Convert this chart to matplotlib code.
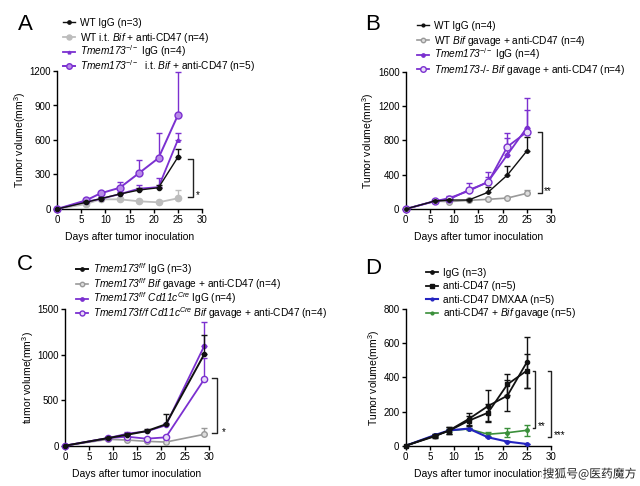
import matplotlib
matplotlib.use('Agg')
import matplotlib.pyplot as plt
import numpy as np
import matplotlib.patheffects as pe
from matplotlib.lines import Line2D

plt.rcParams['font.family'] = ['Liberation Sans', 'DejaVu Sans']
plt.rcParams['mathtext.fontset'] = 'custom'
plt.rcParams['mathtext.rm'] = 'Liberation Sans'
plt.rcParams['mathtext.it'] = 'Liberation Sans:italic'
plt.rcParams['mathtext.cal'] = 'Liberation Sans:italic'
plt.rcParams['mathtext.bf'] = 'Liberation Sans:bold'

# ---------------- data ----------------
xA = [0, 6, 9, 13, 17, 21, 25]
A_wt_igg = [0, 58, 90, 130, 165, 185, 450]
A_wt_igg_err = [0, 8, 10, 12, 15, 20, 70]
A_wt_bif = [0, 43, 84, 84, 67, 58, 93]
A_wt_bif_err = [0, 8, 10, 12, 10, 15, 75]
A_ko_igg = [0, 64, 87, 130, 177, 190, 600]
A_ko_igg_err = [0, 10, 10, 15, 32, 77, 58]
A_ko_bif = [0, 75, 136, 185, 313, 443, 815]
A_ko_bif_err = [0, 10, 15, 50, 116, 221, 379]

xB = [0, 6, 9, 13, 17, 21, 25]
B_wt_igg = [0, 93, 105, 105, 195, 397, 677]
B_wt_igg_err = [0, 10, 10, 10, 65, 105, 168]
B_wt_bif = [0, 93, 86, 101, 113, 128, 183]
B_wt_bif_err = [0, 8, 8, 8, 10, 12, 39]
B_ko_igg = [0, 90, 128, 210, 319, 634, 949]
B_ko_igg_err = [0, 15, 20, 40, 60, 200, 351]
B_ko_bif = [0, 93, 113, 222, 311, 728, 899]
B_ko_bif_err = [0, 15, 30, 78, 125, 160, 257]

xC = [0, 9, 13, 17, 21, 29]
C_ff_igg = [0, 84, 121, 161, 235, 1005]
C_ff_igg_err = [0, 10, 15, 20, 110, 216]
C_ff_bif = [0, 70, 62, 48, 40, 125]
C_ff_bif_err = [0, 8, 8, 8, 8, 73]
C_cre_igg = [0, 84, 132, 158, 224, 1096]
C_cre_igg_err = [0, 10, 15, 20, 25, 268]
C_cre_bif = [0, 84, 99, 77, 92, 730]
C_cre_bif_err = [0, 10, 15, 10, 15, 231]

xD = [0, 6, 9, 13, 17, 21, 25]
D_igg = [0, 55, 90, 156, 232, 293, 488]
D_igg_err = [0, 8, 20, 35, 94, 90, 150]
D_cd47 = [0, 58, 88, 146, 193, 359, 439]
D_cd47_err = [0, 8, 20, 30, 50, 61, 100]
D_dmxaa = [0, 62, 90, 100, 49, 24, 10]
D_dmxaa_err = [0, 4, 5, 5, 4, 3, 2]
D_bif = [0, 60, 88, 98, 67, 76, 90]
D_bif_err = [0, 5, 8, 8, 12, 26, 31]

labels_A = ["WT IgG (n=3)",
            r"WT i.t. $\mathcal{Bif}$ + anti-CD47 (n=4)",
            r"$\mathcal{Tmem173}^{-/-}$ IgG (n=4)",
            r"$\mathcal{Tmem173}^{-/-}$  i.t. $\mathcal{Bif}$ + anti-CD47 (n=5)"]
labels_B = ["WT IgG (n=4)",
            r"WT $\mathcal{Bif}$ gavage + anti-CD47 (n=4)",
            r"$\mathcal{Tmem173}^{-/-}$ IgG (n=4)",
            r"$\mathcal{Tmem173\text{-/-}}$ $\mathcal{Bif}$ gavage + anti-CD47 (n=4)"]
labels_C = [r"$\mathcal{Tmem173}^{f/f}$ IgG (n=3)",
            r"$\mathcal{Tmem173}^{f/f}$ $\mathcal{Bif}$ gavage + anti-CD47 (n=4)",
            r"$\mathcal{Tmem173}^{f/f}$ $\mathcal{Cd11c}^{Cre}$ IgG (n=4)",
            r"$\mathcal{Tmem173f/f}$ $\mathcal{Cd11c}^{Cre}$ $\mathcal{Bif}$ gavage + anti-CD47 (n=4)"]
labels_D = ["IgG (n=3)", "anti-CD47 (n=5)", "anti-CD47 DMXAA (n=5)",
            r"anti-CD47 + $\mathcal{Bif}$ gavage (n=5)"]

PURPLE = '#7b30d0'
BLACK = '#111111'
FS = 7.5
LFS = 7.3
TFS = 7
W, H = 640, 486

fig = plt.figure(figsize=(6.4, 4.86), dpi=100)

def make_ax(rect, ymax, yticks, ylabel):
    ax = fig.add_axes(rect)
    ax.set_xlim(0, 30)
    ax.set_ylim(0, ymax)
    ax.set_xticks([0, 5, 10, 15, 20, 25, 30])
    ax.set_yticks(yticks)
    for s in ['top', 'right']:
        ax.spines[s].set_visible(False)
    for s in ['left', 'bottom']:
        ax.spines[s].set_linewidth(1.0)
    ax.tick_params(direction='out', length=3, width=1, labelsize=TFS, pad=1.5)
    ax.set_xlabel('Days after tumor inoculation', fontsize=FS, labelpad=5)
    ax.set_ylabel(ylabel, fontsize=FS, labelpad=1)
    return ax

def series(ax, x, y, err, color, marker, ms, mfc=None, lw=1.2, both=False, z=3):
    y = np.array(y, float)
    e = np.array(err, float)
    yerr = [e, e] if both else [np.zeros_like(e), e]
    h = ax.errorbar(x, y, yerr=yerr, color=color, marker=marker, ms=ms,
                    mfc=mfc if mfc else color, mec=color, mew=1.0, lw=lw,
                    elinewidth=1.0, capsize=2.2, capthick=1.0, zorder=z)
    h[0].set_clip_on(False)
    return h[0]

def bracket(ax, x, x0, top, bot, txt, tx, ty):
    ax.plot([x0, x, x, x0], [top, top, bot, bot], color='#222222', lw=1.0, clip_on=False)
    ax.text(tx, ty, txt, fontsize=7, ha='left', va='center', clip_on=False)

def legend(handles, labels, xpx, y0, dy=14.6):
    for i, (h, lab) in enumerate(zip(handles, labels)):
        y = y0 + i * dy
        yf = 1 - y / H
        ln = Line2D([xpx / W, (xpx + 6) / W, (xpx + 12) / W], [yf, yf, yf],
                    transform=fig.transFigure, color=h.get_color(), lw=h.get_linewidth(),
                    marker=h.get_marker(), ms=h.get_markersize() * 0.8,
                    mfc=h.get_markerfacecolor(), mec=h.get_markeredgecolor(),
                    markevery=[1])
        fig.add_artist(ln)
        fig.text((xpx + 17) / W, 1 - (y + 3.5) / H, lab, fontsize=LFS,
                 ha='left', va='baseline')

# ---------------- Panel A ----------------
axA = make_ax([57 / W, 1 - 209 / H, 145 / W, 138 / H], 1200,
              [0, 300, 600, 900, 1200], r'Tumor volume(mm$^3$)')
hA1 = series(axA, xA, A_wt_igg, A_wt_igg_err, BLACK, 'o', 3, lw=1.0, z=5)
hA2 = series(axA, xA, A_wt_bif, A_wt_bif_err, '#bdbdbd', 'o', 4.5, lw=1.3, z=3)
hA3 = series(axA, xA, A_ko_igg, A_ko_igg_err, PURPLE, '^', 2.5, lw=1.3, z=4)
hA4 = series(axA, xA, A_ko_bif, A_ko_bif_err, PURPLE, 'o', 5, mfc='#b88ae8', lw=1.4, z=4)
bracket(axA, 28.2, 27.2, 432, 107, '*', 28.7, 125)
legend([hA1, hA2, hA3, hA4], labels_A, 63, 22.5)
fig.text(18 / W, 1 - 24 / H, 'A', fontsize=16, ha='left', va='center')

# ---------------- Panel B ----------------
axB = make_ax([405.7 / W, 1 - 209 / H, 145.3 / W, 137 / H], 1600,
              [0, 400, 800, 1200, 1600], r'Tumor volume(mm$^3$)')
hB1 = series(axB, xB, B_wt_igg, B_wt_igg_err, BLACK, 'o', 2.5, lw=1.0, z=5)
hB2 = series(axB, xB, B_wt_bif, B_wt_bif_err, '#999999', 'o', 4, mfc='#dddddd', lw=1.2, z=3)
hB3 = series(axB, xB, B_ko_igg, B_ko_igg_err, PURPLE, 'o', 3, lw=1.3, z=4)
hB4 = series(axB, xB, B_ko_bif, B_ko_bif_err, PURPLE, 'o', 5, mfc='#e8dcf7', lw=1.3, z=4)
bracket(axB, 28.1, 27.3, 903, 190, '**', 28.6, 205)
legend([hB1, hB2, hB3, hB4], labels_B, 417, 25.5)
fig.text(365 / W, 1 - 25 / H, 'B', fontsize=16, ha='left', va='center')

# ---------------- Panel C ----------------
axC = make_ax([65 / W, 1 - 445.7 / H, 144 / W, 136.4 / H], 1500,
              [0, 500, 1000, 1500], r'tumor volume(mm$^3$)')
hC1 = series(axC, xC, C_ff_igg, C_ff_igg_err, BLACK, 'o', 3, lw=1.4, z=5)
hC2 = series(axC, xC, C_ff_bif, C_ff_bif_err, '#999999', 'o', 4, mfc='#dddddd', lw=1.2, z=3)
hC3 = series(axC, xC, C_cre_igg, C_cre_igg_err, PURPLE, 'o', 3, lw=1.3, z=4)
hC4 = series(axC, xC, C_cre_bif, C_cre_bif_err, PURPLE, 'o', 4.5, mfc='#e8dcf7', lw=1.3, z=4)
bracket(axC, 31.6, 30.6, 748, 136, '*', 32.6, 150)
legend([hC1, hC2, hC3, hC4], labels_C, 76, 269.5)
fig.text(17 / W, 1 - 265 / H, 'C', fontsize=16, ha='left', va='center')

# ---------------- Panel D ----------------
axD = make_ax([405.7 / W, 1 - 445.7 / H, 145.3 / W, 136.7 / H], 800,
              [0, 200, 400, 600, 800], r'Tumor volume(mm$^3$)')
hD4 = series(axD, xD, D_bif, D_bif_err, '#3a8f3a', 'o', 2.5, lw=1.2, both=True, z=3)
hD3 = series(axD, xD, D_dmxaa, D_dmxaa_err, '#2424c0', 'o', 2.5, lw=1.5, both=False, z=4)
hD1 = series(axD, xD, D_igg, D_igg_err, BLACK, 'o', 3, lw=1.3, both=True, z=5)
hD2 = series(axD, xD, D_cd47, D_cd47_err, BLACK, 's', 3.5, lw=1.3, both=True, z=5)
bracket(axD, 26.7, 26.2, 437, 105, '**', 27.2, 115)
bracket(axD, 30.1, 29.4, 437, 53, '***', 30.6, 60)
legend([hD1, hD2, hD3, hD4], labels_D, 426, 272, dy=13.6)
fig.text(365 / W, 1 - 268 / H, 'D', fontsize=16, ha='left', va='center')

# watermark
wm = fig.text(636 / W, 1 - 474 / H, '搜狐号@医药魔方', fontsize=8.5, ha='right', va='center',
              color='#222222', family=['Noto Sans CJK SC', 'DejaVu Sans'])
wm.set_path_effects([pe.withStroke(linewidth=3, foreground='white')])

fig.savefig('out.png', dpi=100)
